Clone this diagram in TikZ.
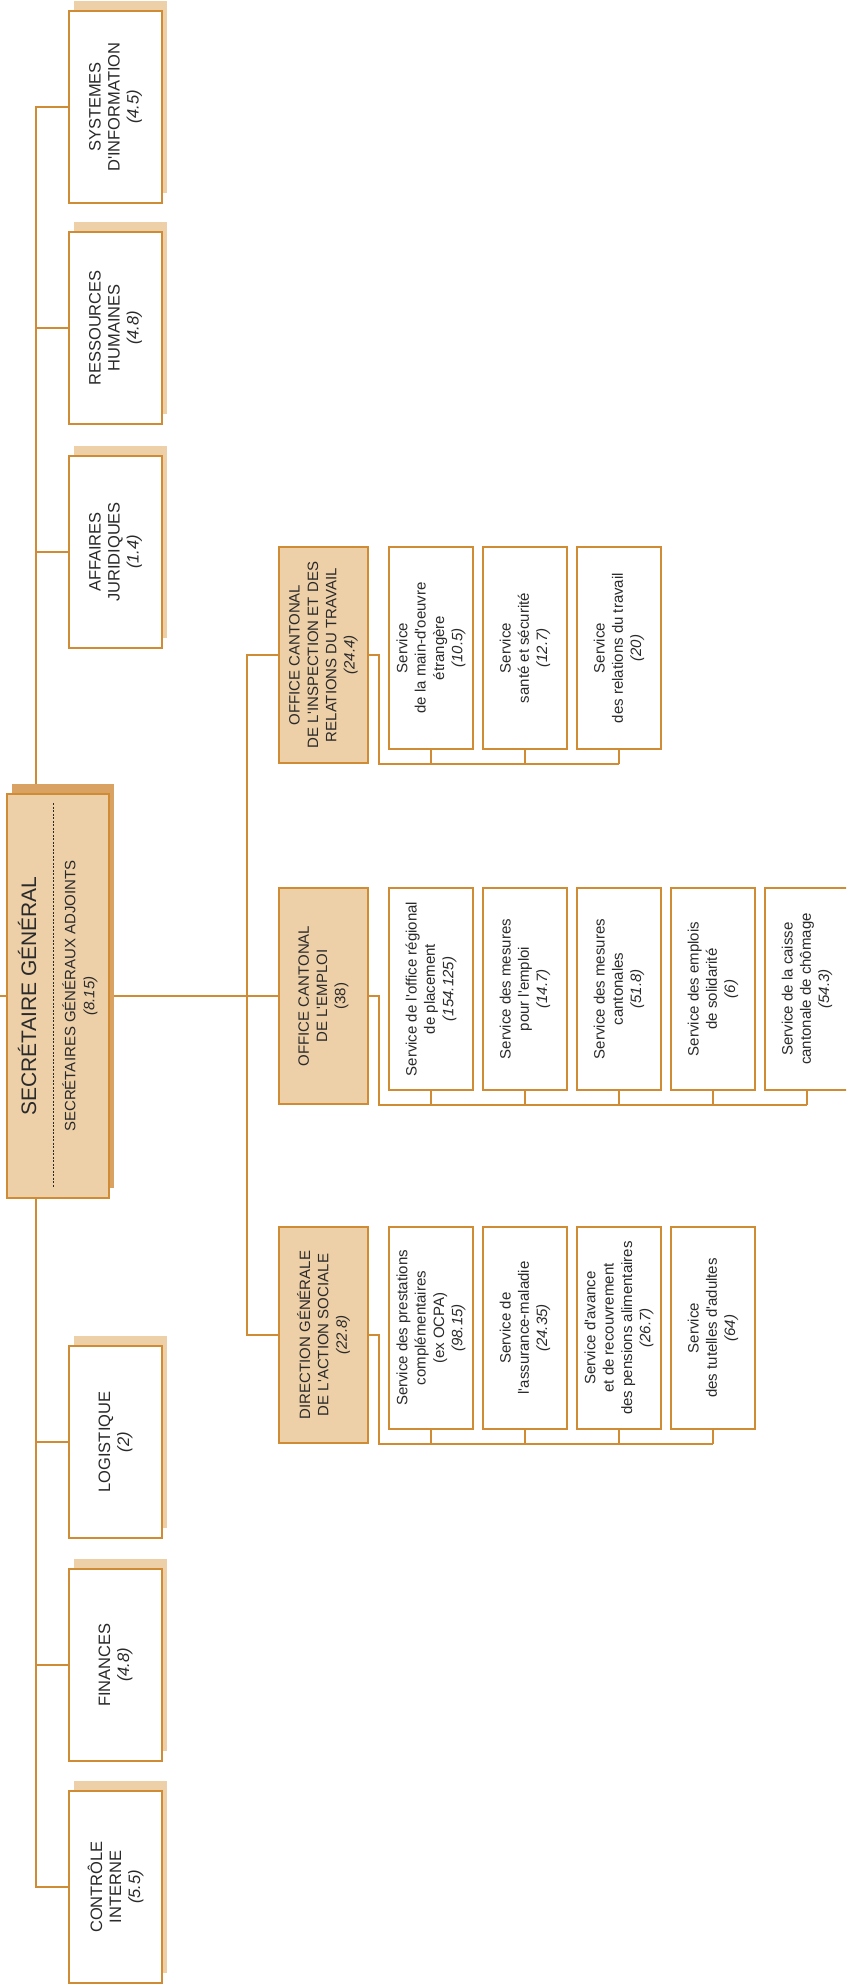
\documentclass[tikz,border=0pt]{standalone}
\usepackage{fontspec}
\setmainfont{Liberation Sans}
\usetikzlibrary{shadows,backgrounds}
\definecolor{oc}{HTML}{D08C35}
\definecolor{tanc}{HTML}{EDCFA8}
\definecolor{sgsh}{HTML}{D9A262}
\definecolor{txc}{HTML}{2A2A2A}
\newcommand{\ap}{\textquotesingle}
\begin{document}
\begin{tikzpicture}[x=1pt,y=-1pt,
 conn/.style={draw=oc,line width=1.4pt},
 lbox/.style={draw=oc,fill=white,line width=1.4pt,minimum width=93pt,minimum height=192pt,inner sep=0pt,drop shadow={shadow xshift=4.5pt,shadow yshift=10pt,fill=tanc,opacity=1}},
 ltxt/.style={rotate=90,align=center,text=txc,font=\fontsize{16.5}{19}\selectfont,inner sep=0pt},
 hbox/.style={draw=oc,fill=tanc,line width=1.4pt,minimum width=89pt,minimum height=216pt,inner sep=0pt},
 htxt/.style={rotate=90,align=center,text=txc,font=\fontsize{15}{18.3}\selectfont,inner sep=0pt},
 sbox/.style={draw=oc,fill=white,line width=1.4pt,minimum width=84pt,minimum height=202pt,inner sep=0pt},
 stxt/.style={rotate=90,align=center,text=txc,font=\fontsize{15}{18.3}\selectfont,inner sep=0pt}]
\useasboundingbox (0,0) rectangle (846,1988);
\clip (0,0) rectangle (846,1988);

% Secretaire general
\node[draw=oc,fill=tanc,line width=1.4pt,minimum width=102pt,minimum height=404pt,inner sep=0pt,
  drop shadow={shadow xshift=5pt,shadow yshift=10pt,fill=sgsh,opacity=1}] (sg) at (58,996) {};
\node[rotate=90,text=txc,font=\fontsize{21}{25}\selectfont,inner sep=0pt] (sgT) at (27,996) {SECRÉTAIRE GÉNÉRAL};
\coordinate (d1) at (53,803);
\coordinate (d2) at (53,1187);
\draw[txc,line width=0.7pt,dash pattern=on 2pt off 1.5pt] (d1) -- (d2);
\node[rotate=90,align=center,text=txc,font=\fontsize{15}{19}\selectfont,inner sep=0pt] (sgS) at (80,996) {SECRÉTAIRES GÉNÉRAUX ADJOINTS\\\textit{(8.15)}};

% left column
\node[lbox] (si) at (115.5,107) {};
\node[ltxt] (siT) at (si) {SYSTEMES\\D\ap INFORMATION\\\textit{(4.5)}};
\node[lbox] (rh) at (115.5,328) {};
\node[ltxt] (rhT) at (rh) {RESSOURCES\\HUMAINES\\\textit{(4.8)}};
\node[lbox] (aj) at (115.5,552) {};
\node[ltxt] (ajT) at (aj) {AFFAIRES\\JURIDIQUES\\\textit{(1.4)}};
\node[lbox] (lo) at (115.5,1442) {};
\node[ltxt] (loT) at (lo) {LOGISTIQUE\\\textit{(2)}};
\node[lbox] (fi) at (115.5,1665) {};
\node[ltxt] (fiT) at (fi) {FINANCES\\\textit{(4.8)}};
\node[lbox] (ci) at (115.5,1887) {};
\node[ltxt] (ciT) at (ci) {CONTRÔLE\\INTERNE\\\textit{(5.5)}};

% heads
\node[hbox] (insp) at (323.5,655) {};
\node[htxt] (inspT) at (insp) {OFFICE CANTONAL\\DE L\ap INSPECTION ET DES\\RELATIONS DU TRAVAIL\\\textit{(24.4)}};
\node[hbox] (emp) at (323.5,996) {};
\node[htxt] (empT) at (emp) {OFFICE CANTONAL\\DE L\ap EMPLOI\\(38)};
\node[hbox] (das) at (323.5,1335) {};
\node[htxt] (dasT) at (das) {DIRECTION GÉNÉRALE\\DE L\ap ACTION SOCIALE\\\textit{(22.8)}};

% services inspection (T=547)
\node[sbox] (i1) at (431,648) {};
\node[stxt] (i1T) at (i1) {Service\\de la main-d\ap oeuvre\\étrangère\\\textit{(10.5)}};
\node[sbox] (i2) at (525,648) {};
\node[stxt] (i2T) at (i2) {Service\\santé et sécurité\\\textit{(12.7)}};
\node[sbox] (i3) at (619,648) {};
\node[stxt] (i3T) at (i3) {Service\\des relations du travail\\\textit{(20)}};

% services emploi (T=888)
\node[sbox] (e1) at (431,989) {};
\node[stxt] (e1T) at (e1) {Service de l\ap office régional\\de placement\\\textit{(154.125)}};
\node[sbox] (e2) at (525,989) {};
\node[stxt] (e2T) at (e2) {Service des mesures\\pour l\ap emploi\\\textit{(14.7)}};
\node[sbox] (e3) at (619,989) {};
\node[stxt] (e3T) at (e3) {Service des mesures\\cantonales\\\textit{(51.8)}};
\node[sbox] (e4) at (713,989) {};
\node[stxt] (e4T) at (e4) {Service des emplois\\de solidarité\\\textit{(6)}};
\node[sbox] (e5) at (807,989) {};
\node[stxt] (e5T) at (e5) {Service de la caisse\\cantonale de chômage\\\textit{(54.3)}};

% services action sociale (T=1227)
\node[sbox] (a1) at (431,1328) {};
\node[stxt] (a1T) at (a1) {Service des prestations\\complémentaires\\(ex OCPA)\\\textit{(98.15)}};
\node[sbox] (a2) at (525,1328) {};
\node[stxt] (a2T) at (a2) {Service de\\l\ap assurance-maladie\\\textit{(24.35)}};
\node[sbox] (a3) at (619,1328) {};
\node[stxt] (a3T) at (a3) {Service d\ap avance\\et de recouvrement\\des pensions alimentaires\\\textit{(26.7)}};
\node[sbox] (a4) at (713,1328) {};
\node[stxt] (a4T) at (a4) {Service\\des tutelles d\ap adultes\\\textit{(64)}};

% connectors
\begin{scope}[on background layer]
\coordinate (lx) at (36,0);
\draw[conn] (si.west) -- (si.west -| lx) -- (ci.west -| lx) -- (ci.west);
\foreach \n in {rh,aj,lo,fi} \draw[conn] (\n.west) -- (\n.west -| lx);
\coordinate (rx) at (247,0);
\draw[conn] (insp.west) -- (insp.west -| rx) -- (das.west -| rx) -- (das.west);
\coordinate (sgl) at (0,996);
\draw[conn] (sgl) -- (emp.west);
\coordinate (hx) at (379,0);
\coordinate (busI) at (0,764);
\coordinate (busE) at (0,1105);
\coordinate (busA) at (0,1444);
\draw[conn] (insp.east) -- (insp.east -| hx) -- (hx |- busI) -- (i3.south |- busI);
\foreach \s in {i1,i2,i3} \draw[conn] (\s.south) -- (\s.south |- busI);
\draw[conn] (emp.east) -- (emp.east -| hx) -- (hx |- busE) -- (e5.south |- busE);
\foreach \s in {e1,e2,e3,e4,e5} \draw[conn] (\s.south) -- (\s.south |- busE);
\draw[conn] (das.east) -- (das.east -| hx) -- (hx |- busA) -- (a4.south |- busA);
\foreach \s in {a1,a2,a3,a4} \draw[conn] (\s.south) -- (\s.south |- busA);
\end{scope}
\end{tikzpicture}
\end{document}
